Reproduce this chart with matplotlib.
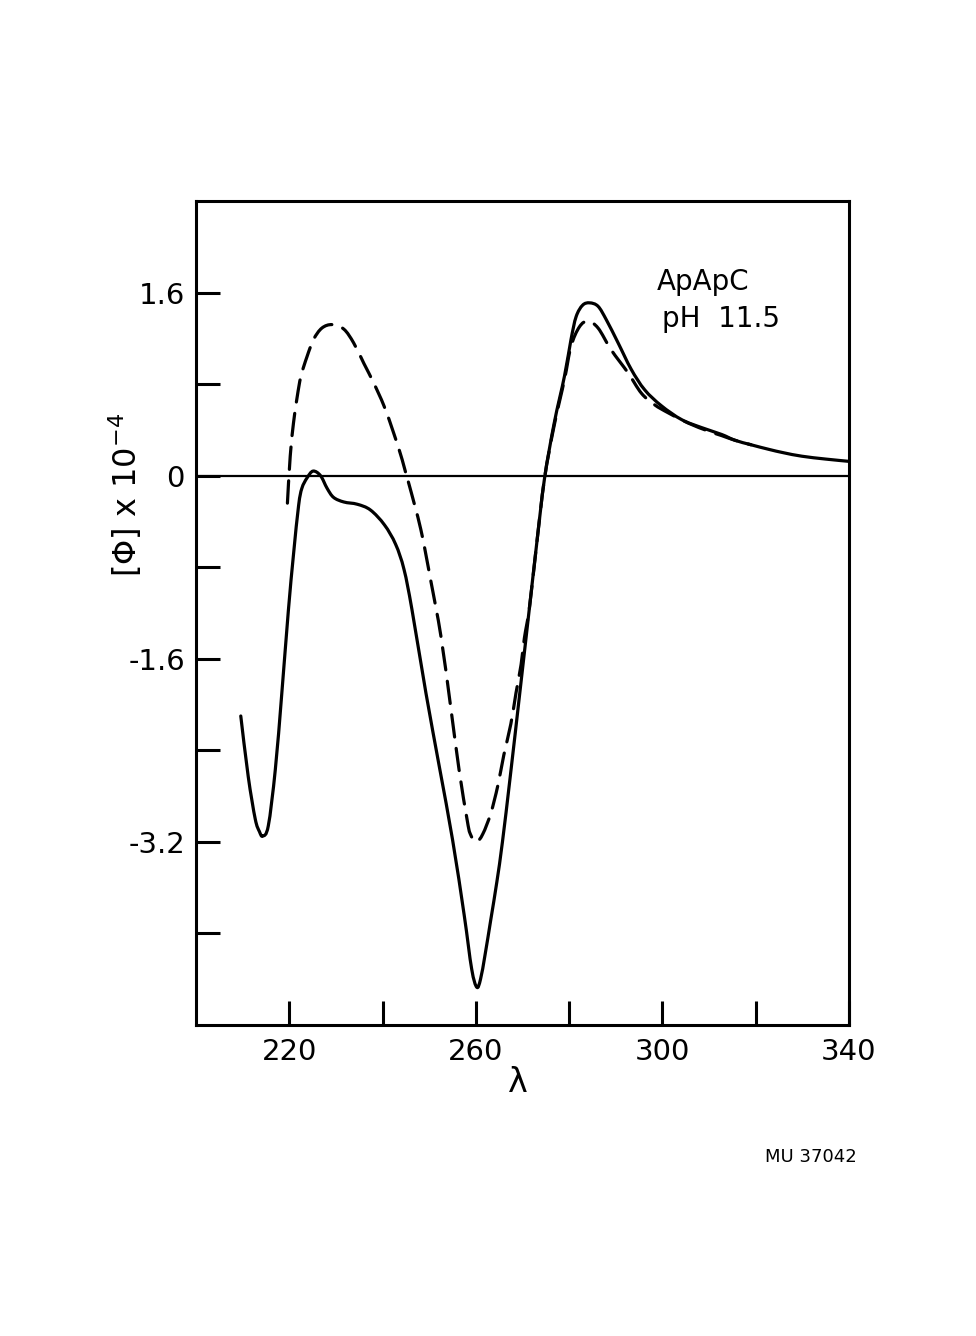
import matplotlib
matplotlib.use("Agg")
import matplotlib.pyplot as plt
from matplotlib.path import Path
from matplotlib.patches import PathPatch

# Optical rotatory dispersion of ApApC at pH 11.5
# wavelength (nm) and molar rotation [Phi] x 10^-4
solid_wl = [209.6, 211.2, 212.7, 213.6, 214.3, 215.5, 217.0, 218.4, 219.8,
            220.9, 222.0, 222.7, 223.8, 225.1, 226.7, 228.1, 229.5, 231.7,
            234.6, 237.4, 240.4, 242.8, 244.6, 246.3, 249.3, 252.2,
            255.0, 257.5, 259.1, 260.2, 261.0, 262.0, 263.2, 264.5, 265.7,
            267.4, 269.5, 271.5, 273.0, 274.7, 276.8, 279.0, 280.4, 281.5,
            282.9, 284.4, 286.2, 288.0, 290.5, 293.3, 296.2, 299.8, 304.1,
            308.4, 312.7, 315.5, 319.0, 322.8, 326.0, 329.9, 335.0, 340.0]
solid_phi = [-2.10, -2.63, -3.00, -3.11, -3.15, -3.06, -2.57, -1.90, -1.18,
             -0.69, -0.26, -0.11, -0.02, 0.04, 0.00, -0.11, -0.19, -0.23,
             -0.25, -0.30, -0.43, -0.60, -0.82, -1.17, -1.90, -2.55,
             -3.18, -3.84, -4.31, -4.47, -4.40, -4.18, -3.88, -3.55, -3.20,
             -2.62, -1.87, -1.15, -0.61, -0.03, 0.46, 0.87, 1.19, 1.39,
             1.49, 1.51, 1.48, 1.36, 1.16, 0.93, 0.75, 0.61, 0.49,
             0.42, 0.36, 0.31, 0.27, 0.23, 0.20, 0.17, 0.145, 0.125]

dashed_wl = [219.6, 220.2, 220.9, 221.7, 222.5, 223.8, 225.2, 227.0, 229.2,
             231.7, 233.8, 236.0, 238.1, 240.3, 242.4, 244.2, 245.3, 245.7,
             248.2, 250.3, 252.5, 254.6, 256.4, 258.1, 258.8, 260.1, 261.5,
             263.2, 264.7, 266.0, 267.5, 268.6, 269.7, 270.4, 271.5, 273.0,
             274.7, 276.8, 279.0, 280.4, 282.2, 284.0, 286.2, 289.0, 292.6,
             295.5, 298.3, 301.2, 305.5, 309.8, 312.7, 315.5, 319.0]
dashed_phi = [-0.24, 0.17, 0.46, 0.69, 0.87, 1.04, 1.19, 1.29, 1.32,
              1.28, 1.16, 0.98, 0.81, 0.61, 0.37, 0.14, -0.03, -0.08,
              -0.47, -0.91, -1.40, -2.02, -2.57, -3.00, -3.13, -3.20, -3.13,
              -2.95, -2.71, -2.44, -2.17, -1.90, -1.65, -1.42, -1.15, -0.61,
              -0.03, 0.44, 0.84, 1.13, 1.30, 1.35, 1.29, 1.10, 0.90,
              0.72, 0.62, 0.55, 0.46, 0.39, 0.35, 0.31, 0.27]

x_ticks = [220, 240, 260, 280, 300, 320, 340]
x_tick_labels = ["220", "", "260", "", "300", "", "340"]
y_ticks = [-4.0, -3.2, -2.4, -1.6, -0.8, 0.0, 0.8, 1.6]
y_tick_labels = ["", "-3.2", "", "-1.6", "", "0", "", "1.6"]


def smooth_path(xs, ys):
    """Catmull-Rom curve through the points, as cubic Bezier segments."""
    pts = list(zip(xs, ys))
    n = len(pts)
    verts = [pts[0]]
    codes = [Path.MOVETO]
    for i in range(n - 1):
        p0 = pts[max(i - 1, 0)]
        p1 = pts[i]
        p2 = pts[i + 1]
        p3 = pts[min(i + 2, n - 1)]
        c1 = (p1[0] + (p2[0] - p0[0]) / 6, p1[1] + (p2[1] - p0[1]) / 6)
        c2 = (p2[0] - (p3[0] - p1[0]) / 6, p2[1] - (p3[1] - p1[1]) / 6)
        verts += [c1, c2, p2]
        codes += [Path.CURVE4] * 3
    return Path(verts, codes)


plt.rcParams["font.family"] = ["DejaVu Sans"]
plt.rcParams["mathtext.fontset"] = "dejavusans"

fig = plt.figure(figsize=(9.76, 13.36), dpi=100)
ax = fig.add_axes([196 / 976, 1 - 1025 / 1336, 653 / 976, 824 / 1336])

ax.set_xlim(200, 340)
ax.set_ylim(-4.8, 2.4)

ax.axhline(0, color="black", lw=1.6)
ax.add_patch(PathPatch(smooth_path(solid_wl, solid_phi), fill=False,
                       edgecolor="black", lw=2.3, capstyle="round",
                       joinstyle="round"))
ax.add_patch(PathPatch(smooth_path(dashed_wl, dashed_phi), fill=False,
                       edgecolor="black", lw=2.3, linestyle=(0, (7, 3.6)),
                       capstyle="round", joinstyle="round"))

for s in ax.spines.values():
    s.set_linewidth(2.2)

ax.set_xticks(x_ticks)
ax.set_xticklabels(x_tick_labels)
ax.set_yticks(y_ticks)
ax.set_yticklabels(y_tick_labels)
ax.tick_params(axis="both", direction="in", length=17, width=2.2,
               labelsize=21, color="black")
ax.tick_params(axis="x", pad=9)
ax.tick_params(axis="y", pad=8)

fig.text(125 / 976, 1 - 495 / 1336, r"[$\Phi$] x 10$^{-4}$", rotation=90,
         ha="center", va="center", fontsize=23)
fig.text(518 / 976, 1 - 1082 / 1336, r"λ", ha="center", va="center",
         fontsize=24)

label_style = dict(fontsize=20, ha="left", va="baseline")
fig.text(657 / 976, 1 - 290 / 1336, "ApApC", **label_style)
fig.text(662 / 976, 1 - 327 / 1336, "pH  11.5", **label_style)
fig.text(765 / 976, 1 - 1162 / 1336, "MU 37042", fontsize=13,
         ha="left", va="baseline")

fig.savefig("out.png", dpi=100)
